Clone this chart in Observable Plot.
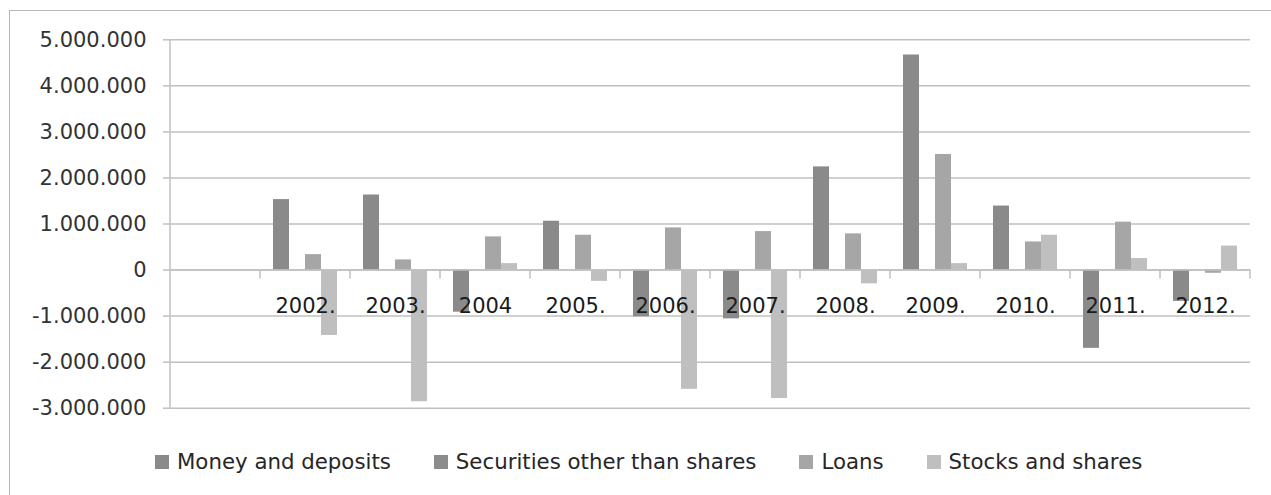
<!DOCTYPE html>
<html><head><meta charset="utf-8">
<script src="https://cdn.jsdelivr.net/npm/d3@7"></script>
<script src="https://cdn.jsdelivr.net/npm/@observablehq/plot@0.6"></script>
<style>
body{margin:0;background:#fff;font-family:"DejaVu Sans",sans-serif;}
#wrap{position:relative;width:1271px;height:495px;overflow:hidden;background:#fff;}
#border{position:absolute;left:9px;top:10px;width:1400px;height:600px;border-left:1px solid #b8b8b8;border-top:1px solid #b8b8b8;}
#chart{position:absolute;left:0;top:0;}
#legend{position:absolute;left:155px;top:450px;display:flex;gap:43px;font-size:21.3px;color:#262626;line-height:24px;white-space:nowrap;}
.item{display:flex;align-items:center;gap:8px;}
.sw{width:14px;height:14px;display:inline-block;}
</style></head><body>
<div id="wrap"><div id="border"></div><div id="chart"></div><div id="legend"></div></div>
<script>
// ---- data ----
const years = ["", "2002.", "2003.", "2004", "2005.", "2006.", "2007.", "2008.", "2009.", "2010.", "2011.", "2012."];
const series = ["Money and deposits", "Securities other than shares", "Loans", "Stocks and shares"];
const moneyAndDeposits          = [null, 1530000, 1630000, -915000, 1060000, -1015000, -1060000, 2240000, 4670000, 1390000, -1700000, -680000];
const securitiesOtherThanShares = [null, 0, 0, 0, 0, 0, 0, 0, 0, 0, 0, 0];
const loans                     = [null, 335000, 220000, 720000, 756000, 915000, 835000, 785000, 2510000, 610000, 1040000, -70000];
const stocksAndShares           = [null, -1420000, -2860000, 140000, -246000, -2590000, -2790000, -300000, 140000, 756000, 250000, 520000];
const yTicks = [-3000000, -2000000, -1000000, 0, 1000000, 2000000, 3000000, 4000000, 5000000];
const colors = ["#8a8a8a", "#8c8c8c", "#a6a6a6", "#bfbfbf"];

// ---- table ----
const seriesValues = [moneyAndDeposits, securitiesOtherThanShares, loans, stocksAndShares];
const rows = years.flatMap((yr, i) => seriesValues.map((vals, k) => ({year: yr, series: series[k], value: vals[i]})));

const fmt = d3.formatLocale({decimal: ",", thousands: ".", grouping: [3], currency: ["", ""], minus: "-"}).format(",");
const gridColor = "#c0c0c0";

const plot = Plot.plot({
  width: 1271,
  height: 420,
  marginTop: 39.3,
  marginLeft: 166,
  marginRight: 17,
  marginBottom: 12.3,
  style: {fontFamily: "DejaVu Sans", fontSize: "21px", background: "transparent", overflow: "visible"},
  fx: {domain: years, padding: 0, axis: null},
  x: {domain: series, paddingInner: 0, paddingOuter: 0.75, axis: null},
  y: {domain: [-3000000, 5000000]},
  color: {domain: series, range: colors},
  marks: [
    Plot.gridY(yTicks, {stroke: gridColor, strokeOpacity: 1, strokeWidth: 1.5}),
    Plot.axisY(yTicks, {tickFormat: fmt, tickSize: 7, tickPadding: 17, stroke: gridColor, strokeWidth: 1.5, fill: "#333", fontSize: 21, label: null}),
    Plot.barY(rows, {fx: "year", x: "series", y: "value", fill: "series"}),
    Plot.ruleY([0], {stroke: gridColor, strokeWidth: 1.5}),
    Plot.text(years, {fx: d => d, y: 0, text: d => d, dy: 36, fill: "#1a1a1a", fontSize: 21})
  ]
});
document.getElementById("chart").appendChild(plot);

// axis line and category tick marks, placed with the plot's own scales
const fxs = plot.scale("fx"), ys = plot.scale("y");
const svg = d3.select(plot);
const g = svg.append("g").attr("stroke", gridColor).attr("stroke-width", 1.5);
const x0 = fxs.apply(years[0]);
g.append("line").attr("x1", x0).attr("x2", x0).attr("y1", ys.apply(5000000)).attr("y2", ys.apply(-3000000));
const zeroY = ys.apply(0);
const edges = years.slice(1).map(yr => fxs.apply(yr));
edges.push(fxs.apply(years[years.length - 1]) + fxs.bandwidth);
edges.forEach(x => g.append("line").attr("x1", x).attr("x2", x).attr("y1", zeroY).attr("y2", zeroY + 9));

// legend
const legend = d3.select("#legend");
series.forEach((s, k) => {
  const it = legend.append("div").attr("class", "item");
  it.append("span").attr("class", "sw").style("background", colors[k]);
  it.append("span").text(s);
});
</script>
</body></html>
